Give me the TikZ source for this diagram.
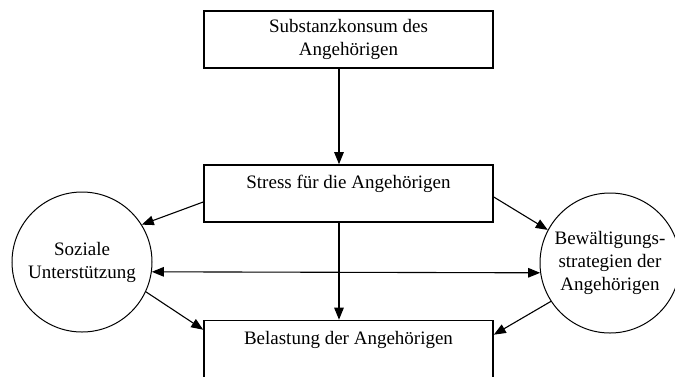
\documentclass[tikz,border=0pt]{standalone}
\usepackage{fontspec}
\setmainfont{Liberation Serif}
\usetikzlibrary{arrows.meta}
\tikzset{
    kasten/.style={draw,line width=1.6pt,minimum width=289pt,minimum height=57pt,
        inner sep=0pt,align=center},
    kreis/.style={circle,draw,line width=1pt,minimum size=140pt,inner sep=0pt,align=center},
    pfeil/.style={line width=1.1pt,-{Triangle[length=12pt,width=9.5pt]}},
}
\begin{document}
\begin{tikzpicture}[x=1pt,y=-1pt,font=\fontsize{19}{23}\selectfont]
    \useasboundingbox (0,0) rectangle (675,376);
    \clip (0,0) rectangle (675,376);
    %% boxes
    \node[kasten] (konsum) at (348.5,39.5) {Substanzkonsum des\\Angehörigen};
    \node[kasten] (stress) at (348.5,193.5) {Stress für die Angehörigen\\\mbox{}};
    \node[kasten] (belastung) at (348.5,349) {Belastung der Angehörigen\\\mbox{}};
    %% circles
    \node[kreis] (sozial) at (82,262) {Soziale\\Unterstützung};
    \node[kreis] (bewaelt) at (610,263) {Bewältigungs-\\strategien der\\Angehörigen};
    %% vertical arrows
    \draw[pfeil] ([xshift=-9.5pt]konsum.south) -- ([xshift=-9.5pt]stress.north);
    \draw[pfeil] ([xshift=-9.5pt]stress.south) -- ([xshift=-9.5pt]belastung.north);
    %% side arrows
    \draw[pfeil] ([yshift=-8.5pt]stress.west) -- (sozial.32);
    \draw[pfeil] ([yshift=-3.5pt]stress.east) -- (bewaelt.152);
    \draw[pfeil] (sozial.-25) -- ([yshift=-10pt]belastung.north west);
    \draw[pfeil] (bewaelt.213) -- ([yshift=-15pt]belastung.north east);
    \draw[pfeil,{Triangle[length=12pt,width=9.5pt]}-{Triangle[length=12pt,width=9.5pt]}]
        (sozial.-8) -- (bewaelt.188);
\end{tikzpicture}
\end{document}
